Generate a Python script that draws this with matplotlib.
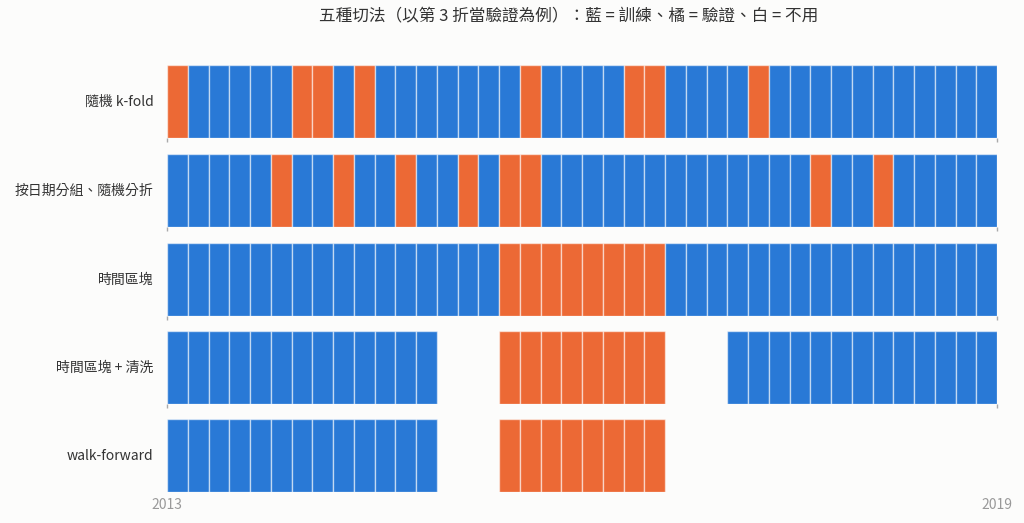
import matplotlib.pyplot as plt
import numpy as np

plt.rcParams['font.family'] = ['Noto Sans CJK TC', 'DejaVu Sans']

n_cells = 40
methods = ["隨機 k-fold", "按日期分組、隨機分折", "時間區塊", "時間區塊 + 清洗", "walk-forward"]
# indices of validation cells (orange) per method
valid_idx = [
    [0, 6, 7, 9, 17, 22, 23, 28],
    [5, 8, 11, 14, 16, 17, 31, 34],
    list(range(16, 24)),
    list(range(16, 24)),
    list(range(16, 24)),
]
# indices of unused cells (white) per method
unused_idx = [
    [],
    [],
    [],
    [13, 14, 15, 24, 25, 26],
    [13, 14, 15] + list(range(24, 40)),
]
year_ticks = [0, 40]
year_labels = ["2013", "2019"]

blue = "#2979d6"
orange = "#ec6935"
bg = "#fcfcfb"

fig = plt.figure(figsize=(10.24, 5.23), dpi=100, facecolor=bg)
left, right = 167 / 1024, 997 / 1024
row_top = [65, 154, 243, 331, 419]
row_h = 73

for i, name in enumerate(methods):
    top = row_top[i]
    ax = fig.add_axes([left, 1 - (top + row_h) / 523, right - left, row_h / 523])
    ax.set_facecolor(bg)
    cells = np.arange(n_cells)
    keep = [c for c in cells if c not in unused_idx[i]]
    colors = [orange if c in valid_idx[i] else blue for c in keep]
    ax.bar(keep, np.ones(len(keep)), width=1.0, align='edge', color=colors,
           edgecolor=(1, 1, 1, 0.55), linewidth=1.0)
    ax.set_xlim(0, n_cells)
    ax.set_ylim(0, 1)
    for s in ax.spines.values():
        s.set_visible(False)
    ax.set_yticks([])
    ax.set_xticks(year_ticks)
    if i == len(methods) - 1:
        ax.set_xticklabels(year_labels, color="#999999", fontsize=10)
        ax.tick_params(axis='x', length=0, pad=4)
    else:
        ax.set_xticklabels([])
        ax.tick_params(axis='x', length=3, width=1, color="#aaaaaa")
    ax.text(-0.016, 0.5, name, transform=ax.transAxes, ha='right', va='center',
            fontsize=10, color="#333333")

fig.text(569 / 1024, 1 - 17 / 523, "五種切法（以第 3 折當驗證為例）：藍 = 訓練、橘 = 驗證、白 = 不用",
         ha='center', va='center', fontsize=12, color="#333333")

fig.savefig("out.png", dpi=100, facecolor=bg)
